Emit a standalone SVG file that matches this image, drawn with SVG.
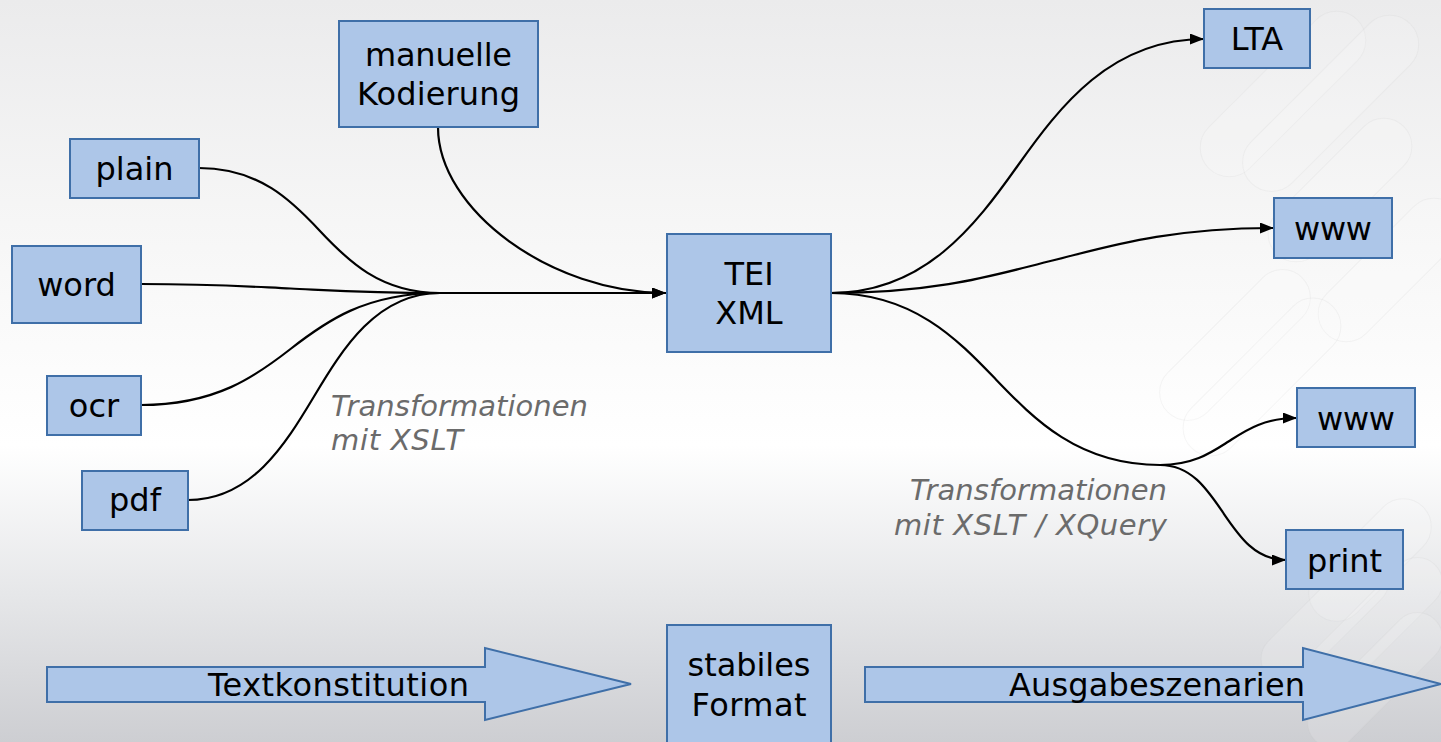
<svg xmlns="http://www.w3.org/2000/svg" width="1441" height="742" viewBox="0 0 1441 742">
<style>
.box{fill:#adc6e8;stroke:#3f6fa8;stroke-width:2}
.t{font-family:"DejaVu Sans",sans-serif;font-size:32px;fill:#000;text-anchor:middle}
.n{font-family:"DejaVu Sans",sans-serif;font-style:italic;font-size:29px;fill:#6b6b6b}
.c{fill:none;stroke:#000;stroke-width:2.200}
.wm{fill:#fff;fill-opacity:.14;stroke:#c4c4c4;stroke-opacity:.16;stroke-width:1}
</style>
<defs>
<linearGradient id="bg" x1="0" y1="0" x2="0" y2="1">
<stop offset="0" stop-color="#ebebec"/><stop offset=".3" stop-color="#f6f6f6"/><stop offset=".6" stop-color="#ffffff"/><stop offset=".8" stop-color="#e6e7e9"/><stop offset="1" stop-color="#cdced2"/>
</linearGradient>
<marker id="a" markerWidth="14" markerHeight="11" refX="14" refY="5.500" orient="auto" markerUnits="userSpaceOnUse"><path d="M0 0L14 5.500L0 11Z" fill="#000"/></marker>
</defs>
<rect width="1441" height="742" fill="url(#bg)"/>
<g id="watermark">
<rect class="wm" x="1178" y="65" width="210" height="58" rx="29" transform="rotate(-45 1283 94)"/>
<rect class="wm" x="1218" y="74" width="225" height="58" rx="29" transform="rotate(-45 1331 103)"/>
<rect class="wm" x="1250" y="162" width="180" height="56" rx="28" transform="rotate(-45 1340 190)"/>
<rect class="wm" x="1300" y="242" width="180" height="56" rx="28" transform="rotate(-45 1390 270)"/>
<rect class="wm" x="1140" y="317" width="190" height="56" rx="28" transform="rotate(-45 1235 345)"/>
<rect class="wm" x="1162" y="349" width="200" height="56" rx="28" transform="rotate(-45 1262 377)"/>
<rect class="wm" x="1295" y="532" width="150" height="56" rx="28" transform="rotate(-45 1370 560)"/>
<rect class="wm" x="1245" y="595" width="160" height="50" rx="25" transform="rotate(-45 1325 620)"/>
<rect class="wm" x="1290" y="600" width="170" height="50" rx="25" transform="rotate(-45 1375 625)"/>
<rect class="wm" x="1290" y="655" width="170" height="50" rx="25" transform="rotate(-45 1375 680)"/>
</g>
<g id="connectors">
<path class="c" d="M199 168C259 168 292 201 319.500 230.500C347 260 380 293 440 293"/>
<path class="c" d="M141 284C216 284 256 287 290.500 288.500C325 290 365 293 440 293"/>
<path class="c" d="M141 405C216 405 256 376 290.500 349C325 322 365 293 440 293"/>
<path class="c" d="M188 500C251 500 285 445 314 396.500C343 348 377 293 440 293"/>
<path class="c" d="M440 293L666 293" marker-end="url(#a)"/>
<path class="c" d="M438 127C438 210 551 293 666 293" marker-end="url(#a)"/>
<path class="c" d="M831 293C924 293 975 226 1017.500 166C1060 106 1111 39 1204 39" marker-end="url(#a)"/>
<path class="c" d="M831 293C942 293 1001 273 1052.500 260.500C1104 248 1163 228 1274 228" marker-end="url(#a)"/>
<path class="c" d="M831 293C913 293 957 339 995.500 379C1034 419 1078 465 1160 465"/>
<path class="c" d="M1160 465C1194 465 1212 452 1228.500 441.500C1245 431 1263 418 1297 418" marker-end="url(#a)"/>
<path class="c" d="M1160 465C1191 465 1207 489 1223 512.500C1239 536 1255 560 1286 560" marker-end="url(#a)"/>
</g>
<g id="n-manuell"><rect class="box" x="339" y="21" width="199" height="106"/><text class="t" x="438.500" y="66" textLength="147">manuelle</text><text class="t" x="438.500" y="105" textLength="163">Kodierung</text></g>
<g id="n-plain"><rect class="box" x="70" y="139" width="129" height="59"/><text class="t" x="134.500" y="180">plain</text></g>
<g id="n-word"><rect class="box" x="12" y="246" width="129" height="77"/><text class="t" x="76.500" y="296">word</text></g>
<g id="n-ocr"><rect class="box" x="47" y="376" width="94" height="59"/><text class="t" x="94" y="417">ocr</text></g>
<g id="n-pdf"><rect class="box" x="82" y="471" width="106" height="59"/><text class="t" x="135" y="511">pdf</text></g>
<g id="n-tei"><rect class="box" x="667" y="234" width="164" height="118"/><text class="t" x="749" y="285">TEI</text><text class="t" x="749" y="324">XML</text></g>
<g id="n-lta"><rect class="box" x="1204" y="9" width="106" height="59"/><text class="t" x="1257" y="50">LTA</text></g>
<g id="n-www1"><rect class="box" x="1274" y="198" width="118" height="60"/><text class="t" x="1333" y="240" textLength="78">www</text></g>
<g id="n-www2"><rect class="box" x="1297" y="388" width="118" height="59"/><text class="t" x="1356" y="430" textLength="78">www</text></g>
<g id="n-print"><rect class="box" x="1286" y="530" width="117" height="59"/><text class="t" x="1344.500" y="572">print</text></g>
<g id="n-format"><rect class="box" x="667" y="625" width="164" height="118"/><text class="t" x="749" y="676" textLength="123">stabiles</text><text class="t" x="749" y="716" textLength="115">Format</text></g>
<g id="n-text"><path class="box" d="M47 667H485V648L631 684L485 720V702H47Z"/><text class="t" x="338.500" y="696" textLength="261">Textkonstitution</text></g>
<g id="n-ausgabe"><path class="box" d="M865 667H1303V648L1441 684L1303 720V702H865Z"/><text class="t" x="1157" y="696" textLength="296">Ausgabeszenarien</text></g>
<g id="labels">
<text class="n" x="331" y="416" textLength="257">Transformationen</text><text class="n" x="331" y="450" textLength="132">mit XSLT</text>
<text class="n" x="910" y="500" textLength="257">Transformationen</text><text class="n" x="894" y="535" textLength="273">mit XSLT / XQuery</text>
</g>
</svg>
